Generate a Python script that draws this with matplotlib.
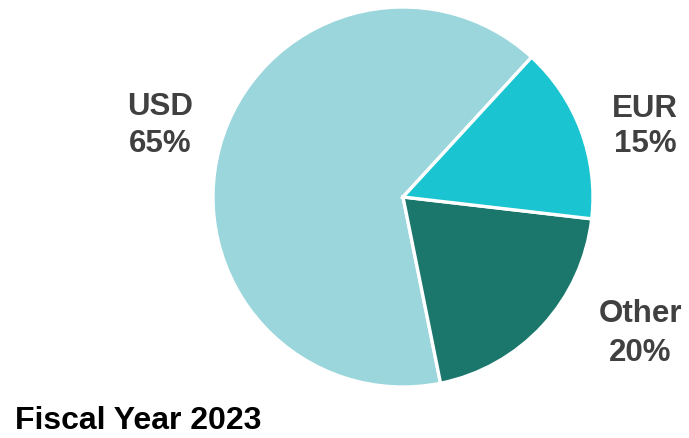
import matplotlib
matplotlib.use("Agg")
import matplotlib.pyplot as plt

categories = ["USD", "Other", "EUR"]
values = [65, 20, 15]
colors = ["#9AD6DC", "#1B776C", "#1AC4D0"]
title = "Fiscal Year 2023"

W, H = 689, 439
fig = plt.figure(figsize=(W / 100, H / 100), dpi=100)
plt.rcParams['font.family'] = ['Liberation Sans', 'DejaVu Sans']

cx, cy, r = 403, 198, 190
ax = fig.add_axes([(cx - r) / W, (H - cy - r) / H, 2 * r / W, 2 * r / H])
ax.pie(values, colors=colors, startangle=47.4, counterclock=True,
       radius=1, wedgeprops=dict(edgecolor="white", linewidth=2.4))
ax.set_xlim(-1, 1)
ax.set_ylim(-1, 1)
ax.set_aspect("equal")
ax.axis("off")

lab_color = "#404040"
fs = 22.5
def px(x, y):
    return x / W, 1 - y / H

pos = {"USD": (160, 115, 152), "EUR": (645, 117, 152), "Other": (640, 322, 361)}
for c, v in zip(categories, values):
    x, y1, y2 = pos[c]
    fig.text(*px(x, y1), c, ha="center", va="baseline", fontsize=fs,
             fontweight="bold", color=lab_color)
    fig.text(*px(x, y2), f"{v}%", ha="center", va="baseline", fontsize=fs,
             fontweight="bold", color=lab_color)

fig.text(*px(15, 429), title, ha="left", va="baseline", fontsize=23,
         fontweight="bold", color="black")

fig.savefig("out.png", dpi=100)
